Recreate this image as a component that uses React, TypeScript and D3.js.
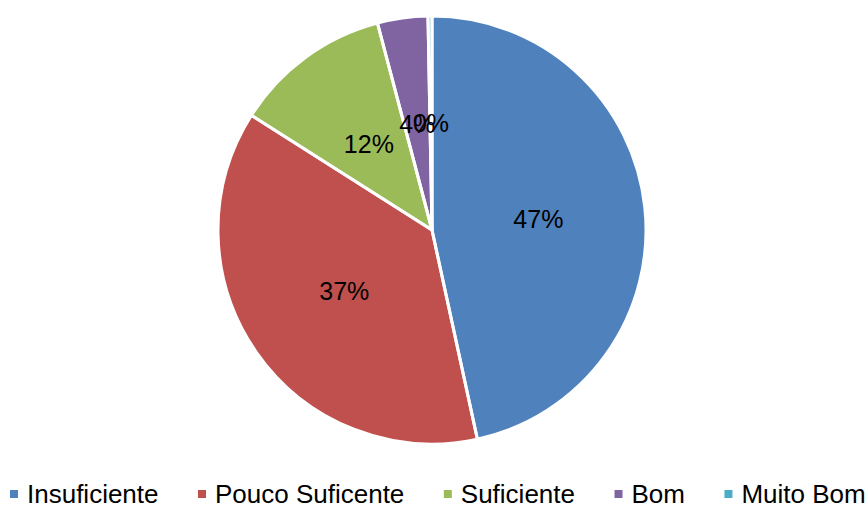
import React, { useEffect, useRef } from "react";
import * as d3 from "d3";

const categories = ["Insuficiente", "Pouco Suficente", "Suficiente", "Bom", "Muito Bom"];
const values = [46.6, 37.4, 11.9, 3.8, 0.3];
const colors = ["#4F81BD", "#C0504D", "#9BBB59", "#8064A2", "#4BACC6"];

const W = 866;
const H = 508;

export default function App() {
  const ref = useRef<SVGSVGElement | null>(null);

  useEffect(() => {
    const svg = d3.select(ref.current);
    svg.selectAll("*").remove();
    const cx = 432, cy = 230, r = 214;
    const total = d3.sum(values);
    const pie = d3.pie<number>().sort(null).value((d) => d);
    const arcs = pie(values);
    const arc = d3.arc<d3.PieArcDatum<number>>().innerRadius(0).outerRadius(r);
    const labelArc = d3.arc<d3.PieArcDatum<number>>().innerRadius(r * 0.5).outerRadius(r * 0.5);

    const g = svg.append("g").attr("transform", `translate(${cx},${cy})`);
    g.selectAll("path.fill")
      .data(arcs)
      .enter()
      .append("path")
      .attr("class", "fill")
      .attr("d", arc as any)
      .attr("fill", (_d, i) => colors[i]);
    g.selectAll("path.edge")
      .data(arcs)
      .enter()
      .append("path")
      .attr("class", "edge")
      .attr("d", arc as any)
      .attr("fill", "none")
      .attr("stroke", "#fff")
      .attr("stroke-width", 3)
      .attr("stroke-linejoin", "round");

    g.selectAll("text.lbl")
      .data(arcs)
      .enter()
      .append("text")
      .attr("class", "lbl")
      .attr("transform", (d) => `translate(${labelArc.centroid(d)})`)
      .attr("text-anchor", "middle")
      .attr("dy", "0.36em")
      .attr("font-family", "'Liberation Sans', Arial, sans-serif")
      .attr("font-size", 25)
      .attr("fill", "#000")
      .text((d) => `${Math.round((d.data / total) * 100)}%`);

    const legend = svg.append("g");
    let x = 10;
    const ly = 494;
    const sx = 1.04;
    categories.forEach((c, i) => {
      legend
        .append("rect")
        .attr("x", x)
        .attr("y", ly - 4)
        .attr("width", 8)
        .attr("height", 8)
        .attr("fill", colors[i]);
      const t = legend
        .append("text")
        .attr("transform", `translate(${x + 17},${ly}) scale(${sx},1)`)
        .attr("dy", "0.36em")
        .attr("font-family", "'Liberation Sans', Arial, sans-serif")
        .attr("font-size", 25)
        .attr("fill", "#000")
        .text(c);
      const w = (t.node() as SVGTextElement).getComputedTextLength() * sx;
      x = x + 17 + w + 39.5;
    });
  }, []);

  return (
    <svg
      ref={ref}
      width={W}
      height={H}
      style={{ position: "absolute", left: 0, top: 0, background: "#fff", display: "block" }}
    />
  );
}
